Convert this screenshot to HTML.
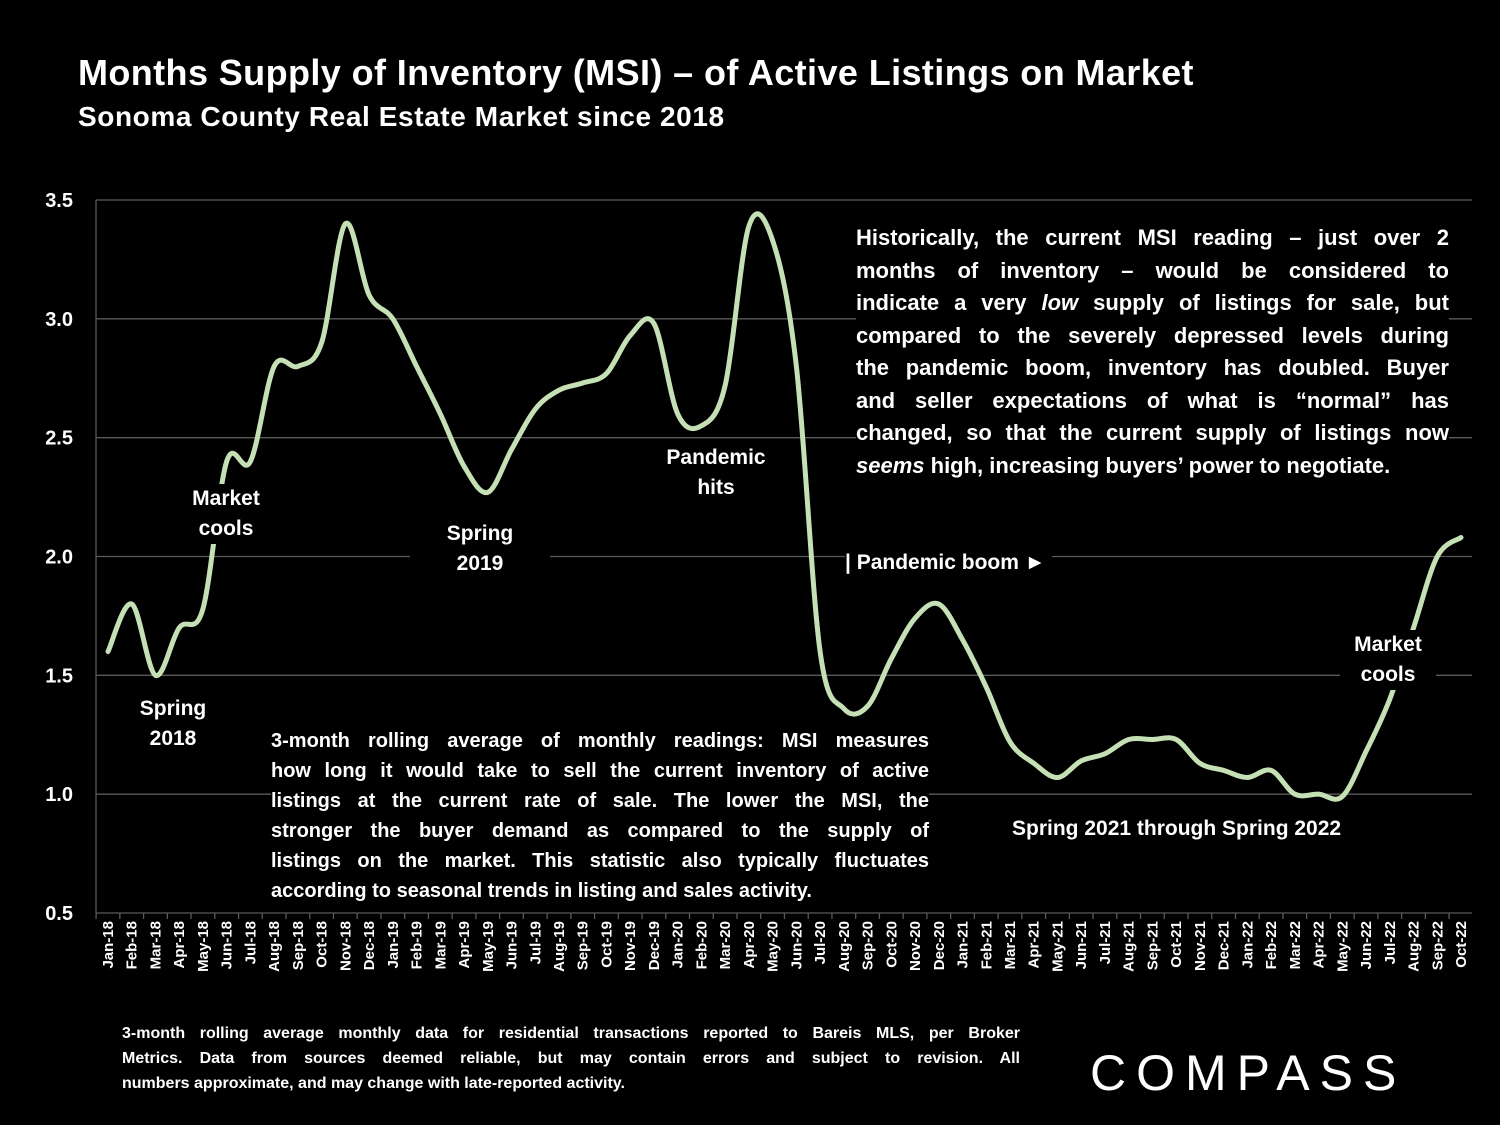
<!DOCTYPE html>
<html><head><meta charset="utf-8">
<style>
body{margin:0;background:#000;}
#wrap{position:relative;width:1500px;height:1125px;background:#000;overflow:hidden;font-family:"Liberation Sans",sans-serif;color:#fff;}
.t{position:absolute;font-weight:bold;}
.lab{position:absolute;font-weight:bold;font-size:21px;text-align:center;background:#000;line-height:30px;}
.just{position:absolute;font-weight:bold;background:#000;}
.just div{text-align:justify;text-align-last:justify;white-space:nowrap;}
.just div.last{text-align-last:left;}
</style></head><body>
<div id="wrap">
<div class="t" style="left:78px;top:52px;font-size:36px;letter-spacing:0.4px;">Months Supply of Inventory (MSI) – of Active Listings on Market</div>
<div class="t" style="left:78px;top:101px;font-size:28px;letter-spacing:0.6px;">Sonoma County Real Estate Market since 2018</div>
<svg id="chart" width="1500" height="1125" style="position:absolute;left:0;top:0"></svg>
<div class="lab" style="left:128px;top:694px;width:90px;">Spring<br>2018</div>
<div class="lab" style="left:180px;top:484px;width:92px;">Market<br>cools</div>
<div class="lab" style="left:410px;top:519px;width:140px;">Spring<br>2019</div>
<div class="lab" style="left:660px;top:443px;width:112px;">Pandemic<br>hits</div>
<div class="lab" style="left:845px;top:548px;text-align:left;padding-right:6px;">| Pandemic boom ►</div>
<div class="lab" style="left:1012px;top:814px;text-align:left;">Spring 2021 through Spring 2022</div>
<div class="lab" style="left:1340px;top:630px;width:96px;">Market<br>cools</div>
<div class="just" style="left:856px;top:222px;width:593px;font-size:22px;line-height:32.5px;">
<div>Historically, the current MSI reading – just over 2</div>
<div>months of inventory – would be considered to</div>
<div>indicate a very <i>low</i> supply of listings for sale, but</div>
<div>compared to the severely depressed levels during</div>
<div>the pandemic boom, inventory has doubled. Buyer</div>
<div>and seller expectations of what is “normal” has</div>
<div>changed, so that the current supply of listings now</div>
<div class="last"><i>seems</i> high, increasing buyers’ power to negotiate.</div>
</div>
<div class="just" style="left:271px;top:726px;width:658px;font-size:20px;line-height:30px;padding-bottom:4px;">
<div>3-month rolling average of monthly readings: MSI measures</div>
<div>how long it would take to sell the current inventory of active</div>
<div>listings at the current rate of sale. The lower the MSI, the</div>
<div>stronger the buyer demand as compared to the supply of</div>
<div>listings on the market. This statistic also typically fluctuates</div>
<div class="last">according to seasonal trends in listing and sales activity.</div>
</div>
<div class="just" style="left:122px;top:1021px;width:898px;font-size:16px;line-height:25px;background:none;">
<div>3-month rolling average monthly data for residential transactions reported to Bareis MLS, per Broker</div>
<div>Metrics. Data from sources deemed reliable, but may contain errors and subject to revision. All</div>
<div class="last">numbers approximate, and may change with late-reported activity.</div>
</div>
<div class="t" style="left:1090px;top:1044px;font-size:50px;font-weight:normal;letter-spacing:10px;">COMPASS</div>
</div>
<script>
const categories=["Jan-18","Feb-18","Mar-18","Apr-18","May-18","Jun-18","Jul-18","Aug-18","Sep-18","Oct-18","Nov-18","Dec-18","Jan-19","Feb-19","Mar-19","Apr-19","May-19","Jun-19","Jul-19","Aug-19","Sep-19","Oct-19","Nov-19","Dec-19","Jan-20","Feb-20","Mar-20","Apr-20","May-20","Jun-20","Jul-20","Aug-20","Sep-20","Oct-20","Nov-20","Dec-20","Jan-21","Feb-21","Mar-21","Apr-21","May-21","Jun-21","Jul-21","Aug-21","Sep-21","Oct-21","Nov-21","Dec-21","Jan-22","Feb-22","Mar-22","Apr-22","May-22","Jun-22","Jul-22","Aug-22","Sep-22","Oct-22"];
const msiValues=[1.6,1.8,1.5,1.7,1.78,2.4,2.4,2.8,2.8,2.9,3.4,3.1,3.0,2.8,2.6,2.38,2.27,2.45,2.62,2.7,2.73,2.77,2.93,2.98,2.6,2.55,2.72,3.39,3.33,2.8,1.6,1.36,1.37,1.57,1.74,1.8,1.65,1.45,1.22,1.13,1.07,1.14,1.17,1.23,1.23,1.23,1.13,1.1,1.07,1.1,1.0,1.0,0.99,1.18,1.4,1.7,2.0,2.08];
const yTicks=[0.5,1.0,1.5,2.0,2.5,3.0,3.5];
const NS="http://www.w3.org/2000/svg";
const svg=document.getElementById("chart");
const L=96,R=1472,T=200,B=913,yMin=0.5,yMax=3.5;
const x0=108,x1=1461;
function xs(i){return x0+(x1-x0)*i/(categories.length-1);}
function ys(v){return B-(v-yMin)/(yMax-yMin)*(B-T);}
function mk(tag,attrs){const e=document.createElementNS(NS,tag);for(const k in attrs)e.setAttribute(k,attrs[k]);svg.appendChild(e);return e;}
yTicks.forEach(v=>{
 const g=mk("line",{x1:L,x2:R,y1:ys(v),y2:ys(v),stroke:"#5a5a5a","stroke-width":1.3});
 
 
 const t=mk("text",{x:73,y:ys(v)+7,"text-anchor":"end",fill:"#fff","font-size":20,"font-weight":"bold","font-family":"Liberation Sans, sans-serif"});
 t.textContent=v.toFixed(1);
 
 
});
const ax=mk("line",{x1:L,x2:L,y1:T,y2:B,stroke:"#5a5a5a","stroke-width":1.3});


categories.forEach((c,i)=>{
 const tk=mk("line",{x1:xs(i)-11.9,x2:xs(i)-11.9,y1:B,y2:B+6,stroke:"#5a5a5a","stroke-width":1.3});
 
 
 const t=mk("text",{x:0,y:0,"text-anchor":"end",fill:"#fff","font-size":15,"font-weight":"bold","font-family":"Liberation Sans, sans-serif",transform:`translate(${xs(i)+5},${B+8}) rotate(-90)`});
 t.textContent=c;
 
 
});
const pts=msiValues.map((v,i)=>[xs(i),ys(v)]);
let d=`M${pts[0][0]},${pts[0][1]}`;
for(let i=0;i<pts.length-1;i++){
 const p0=pts[Math.max(0,i-1)],p1=pts[i],p2=pts[i+1],p3=pts[Math.min(pts.length-1,i+2)];
 const c1=[p1[0]+(p2[0]-p0[0])/6,p1[1]+(p2[1]-p0[1])/6],c2=[p2[0]-(p3[0]-p1[0])/6,p2[1]-(p3[1]-p1[1])/6];
 d+=` C${c1[0]},${c1[1]} ${c2[0]},${c2[1]} ${p2[0]},${p2[1]}`;
}
const ln=mk("path",{d:d,fill:"none",stroke:"#c5e0b4","stroke-width":5,"stroke-linejoin":"round","stroke-linecap":"round"});


</script>
</body></html>
